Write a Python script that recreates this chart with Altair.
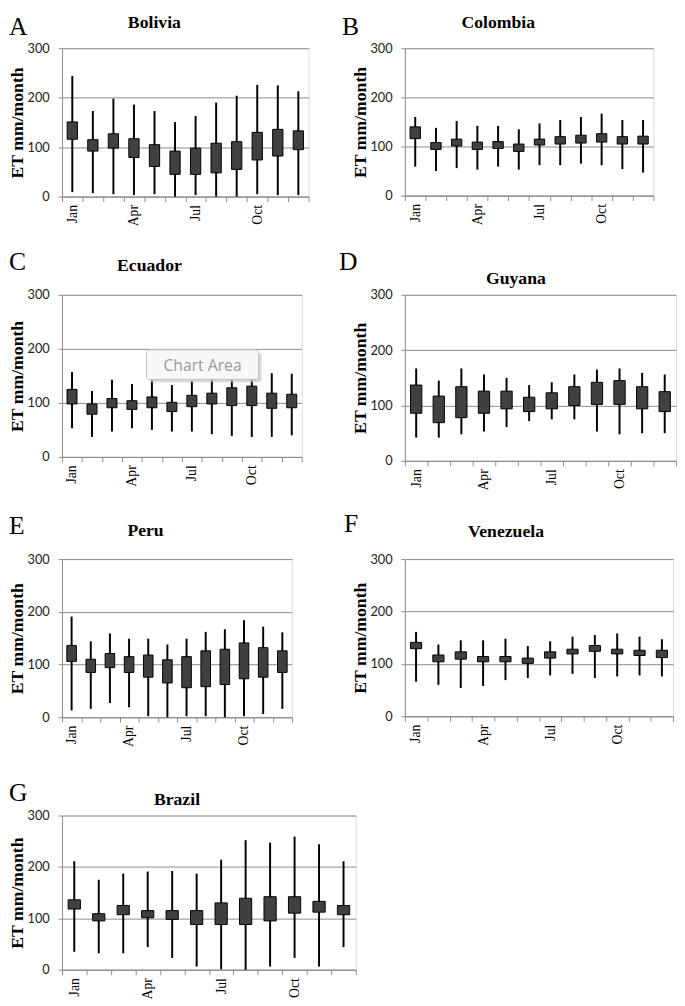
import altair as alt
import pandas as pd

months = ["Jan", "Feb", "Mar", "Apr", "May", "Jun", "Jul", "Aug", "Sep", "Oct", "Nov", "Dec"]
shown_months = ["Jan", "Apr", "Jul", "Oct"]

# whisker low, box low, box high, whisker high (ET mm/month)
bolivia_lo = [9, 7, 5, 3, 5, 0, 3, 0, 0, 5, 3, 3]
bolivia_q1 = [116, 92, 98, 79, 61, 45, 45, 48, 55, 74, 82, 95]
bolivia_q3 = [151, 115, 127, 117, 105, 92, 98, 108, 111, 130, 136, 133]
bolivia_hi = [244, 173, 198, 186, 173, 151, 163, 190, 204, 226, 225, 213]

colombia_lo = [59, 50, 56, 53, 59, 53, 62, 62, 65, 62, 54, 47]
colombia_q1 = [116, 94, 101, 94, 96, 90, 103, 105, 107, 109, 105, 105]
colombia_q3 = [140, 108, 115, 109, 110, 105, 115, 120, 123, 126, 120, 121]
colombia_hi = [160, 138, 152, 142, 142, 135, 147, 154, 160, 167, 154, 154]

ecuador_lo = [53, 37, 47, 53, 50, 47, 47, 42, 39, 37, 37, 40]
ecuador_q1 = [98, 79, 91, 88, 91, 84, 93, 98, 95, 95, 90, 91]
ecuador_q3 = [125, 98, 108, 104, 111, 101, 114, 118, 128, 131, 118, 116]
ecuador_hi = [157, 122, 143, 135, 143, 133, 141, 148, 151, 152, 155, 154]

guyana_lo = [42, 42, 48, 53, 61, 72, 75, 75, 53, 48, 50, 50]
guyana_q1 = [86, 69, 78, 86, 94, 89, 94, 100, 102, 102, 94, 89]
guyana_q3 = [137, 117, 134, 126, 126, 115, 123, 134, 142, 145, 134, 125]
guyana_hi = [167, 145, 167, 156, 150, 137, 142, 156, 165, 167, 159, 156]

peru_lo = [13, 16, 27, 19, 2, 0, 2, 2, 0, 2, 6, 16]
peru_q1 = [106, 85, 94, 85, 76, 65, 56, 58, 62, 73, 76, 85]
peru_q3 = [136, 110, 121, 115, 118, 109, 115, 126, 129, 141, 132, 126]
peru_hi = [191, 144, 159, 149, 149, 138, 149, 162, 167, 184, 172, 161]

venezuela_lo = [66, 60, 54, 58, 69, 73, 78, 81, 73, 76, 78, 76]
venezuela_q1 = [129, 104, 109, 104, 104, 101, 111, 119, 124, 119, 116, 112]
venezuela_q3 = [141, 117, 123, 114, 114, 111, 123, 128, 135, 128, 126, 126]
venezuela_hi = [161, 137, 145, 145, 148, 134, 143, 152, 155, 158, 152, 147]

brazil_lo = [35, 32, 32, 44, 23, 6, 1, 0, 6, 23, 6, 44]
brazil_q1 = [118, 95, 107, 101, 98, 88, 88, 88, 95, 110, 112, 107]
brazil_q3 = [136, 109, 125, 115, 115, 115, 130, 139, 142, 142, 133, 125]
brazil_hi = [211, 175, 187, 191, 192, 187, 214, 252, 247, 259, 244, 211]

GRAY = "#8c8c8c"
SERIF = "Liberation Serif"


def panel(letter, country, lo, q1, q3, hi, w, h, letter_xy, title_xy, chart_area=False):
    df = pd.DataFrame({"month": months, "lo": lo, "q1": q1, "q3": q3, "hi": hi})
    base = alt.Chart(df)
    label_expr = "indexof(" + str(shown_months) + ", datum.value) >= 0 ? datum.value : ''"
    x = alt.X(
        "month:N",
        sort=months,
        scale=alt.Scale(type="band", domain=months, paddingInner=0, paddingOuter=0),
        axis=alt.Axis(
            title=None,
            tickBand="extent",
            labelAngle=270,
            labelExpr=label_expr,
            labelFont=SERIF,
            labelFontSize=14,
            labelColor="black",
            labelPadding=3,
            tickSize=5,
            tickColor=GRAY,
            domainColor=GRAY,
            grid=False,
        ),
    )
    yscale = alt.Scale(domain=[0, 300], nice=False, zero=True)
    yaxis = alt.Axis(
        values=[0, 100, 200, 300],
        grid=True,
        gridColor=GRAY,
        gridWidth=1,
        domainColor=GRAY,
        tickColor=GRAY,
        tickSize=4,
        labelFont="Lato",
        labelFontSize=13,
        labelColor="#222222",
        labelPadding=9,
        title="ET mm/month",
        titleFont=SERIF,
        titleFontSize=18,
        titleFontWeight="bold",
        titleColor="black",
        titleAngle=270,
        titleX=-40,
        titleY=h / 2,
        titleAlign="center",
        titleBaseline="alphabetic",
    )
    whisk = base.mark_rule(color="black", strokeWidth=2).encode(
        x=x, y=alt.Y("lo:Q", scale=yscale, axis=yaxis), y2="hi:Q"
    )
    box = base.mark_bar(
        width=alt.RelativeBandSize(0.5), fill="#404040", stroke="black", strokeWidth=1
    ).encode(x=x, y=alt.Y("q1:Q", scale=yscale), y2="q3:Q")
    let = alt.Chart(pd.DataFrame({"t": [letter]})).mark_text(
        font=SERIF, fontSize=26, align="left", baseline="alphabetic", color="black"
    ).encode(text="t:N", x=alt.value(letter_xy[0]), y=alt.value(letter_xy[1]))
    ttl = alt.Chart(pd.DataFrame({"t": [country]})).mark_text(
        font=SERIF, fontSize=18, fontWeight="bold", align="center", baseline="alphabetic", color="black"
    ).encode(text="t:N", x=alt.value(title_xy[0]), y=alt.value(title_xy[1]))
    layers = [whisk, box, let, ttl]
    if chart_area:
        one = pd.DataFrame({"t": ["Chart Area"]})
        shadow = alt.Chart(one).mark_rect(fill="#c8c8c8", opacity=0.7, cornerRadius=3).encode(
            x=alt.value(89), x2=alt.value(203), y=alt.value(59), y2=alt.value(89)
        )
        tip = alt.Chart(one).mark_rect(fill="#f8f8f8", stroke="#c4c4c4", strokeWidth=1, cornerRadius=3).encode(
            x=alt.value(86), x2=alt.value(200), y=alt.value(56), y2=alt.value(86)
        )
        tip_text = alt.Chart(one).mark_text(
            font="Open Sans", fontSize=16, color="#9a9a9a", align="center", baseline="alphabetic"
        ).encode(text="t:N", x=alt.value(143), y=alt.value(78))
        layers += [shadow, tip, tip_text]
    return alt.layer(*layers).properties(width=w, height=h)


pA = panel("A", "Bolivia", bolivia_lo, bolivia_q1, bolivia_q3, bolivia_hi, 251, 151, (-54, -14), (94, -21))
pB = panel("B", "Colombia", colombia_lo, colombia_q1, colombia_q3, colombia_hi, 253, 150, (-64, -14), (95, -21))
pC = panel("C", "Ecuador", ecuador_lo, ecuador_q1, ecuador_q3, ecuador_hi, 244, 165, (-54, -25), (89, -24), chart_area=True)
pD = panel("D", "Guyana", guyana_lo, guyana_q1, guyana_q3, guyana_hi, 276, 169, (-67, -25), (113, -11))
pE = panel("E", "Peru", peru_lo, peru_q1, peru_q3, peru_hi, 234, 161, (-54, -26), (85, -23))
pF = panel("F", "Venezuela", venezuela_lo, venezuela_q1, venezuela_q3, venezuela_hi, 273, 160, (-62, -28), (103, -22))
pG = panel("G", "Brazil", brazil_lo, brazil_q1, brazil_q3, brazil_hi, 299, 157, (-54, -15), (117, -11))

chart = (
    alt.concat(pA, pB, pC, pD, pE, pF, pG, columns=2)
    .properties(
        bounds="flush",
        align="each",
        spacing={"row": 100, "column": 50},
        padding={"top": -4, "left": 0, "right": 0, "bottom": 0},
    )
    .configure_view(strokeWidth=0)
    .configure(background="white")
)

chart.save("out.html", embed_options={"renderer": "svg", "actions": False})
